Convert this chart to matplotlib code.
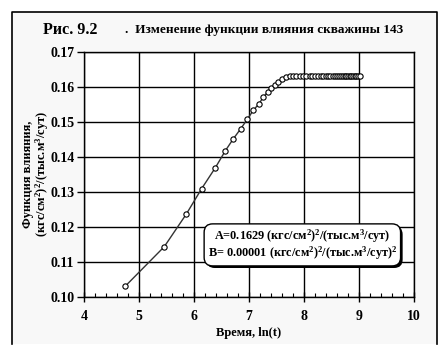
import matplotlib
matplotlib.use("Agg")
import matplotlib.pyplot as plt
import matplotlib.patheffects as pe
from matplotlib.patches import Rectangle
from matplotlib.lines import Line2D
from matplotlib.ticker import MultipleLocator, FormatStrFormatter

plt.rcParams["font.family"] = ["Liberation Serif", "DejaVu Serif"]
plt.rcParams["font.weight"] = "bold"
plt.rcParams["mathtext.default"] = "regular"

# data
ln_t = [4.75, 5.46, 5.86, 6.14, 6.39, 6.57, 6.71, 6.85, 6.97, 7.08, 7.18,
        7.26, 7.34, 7.40, 7.47, 7.53, 7.60, 7.67, 7.74,
        7.80, 7.86, 7.92, 7.98, 8.04, 8.10, 8.15, 8.20, 8.25, 8.30, 8.35,
        8.40, 8.44, 8.48, 8.52, 8.56, 8.60, 8.64, 8.68, 8.71, 8.74, 8.77,
        8.80, 8.83, 8.86, 8.89, 8.92, 8.95, 8.98, 9.01]
influence = [0.1030, 0.1143, 0.1236, 0.1309, 0.1369, 0.1417, 0.1450, 0.1480,
             0.1507, 0.1533, 0.1551, 0.1570, 0.1585, 0.1596, 0.1606, 0.1613,
             0.1621, 0.1627, 0.1630,
             0.1630, 0.1630, 0.1630, 0.1630, 0.1630, 0.1630, 0.1630, 0.1630,
             0.1630, 0.1630, 0.1630, 0.1630, 0.1630, 0.1630, 0.1630, 0.1630,
             0.1630, 0.1630, 0.1630, 0.1630, 0.1630, 0.1630, 0.1630, 0.1630,
             0.1630, 0.1630, 0.1630, 0.1630, 0.1630, 0.1630]

title_fig = "Рис. 9.2"
title_text = ".  Изменение функции влияния скважины 143"
xlabel = "Время, ln(t)"
ylabel = "Функция влияния,\n(кгс/см$^2$)$^2$/(тыс.м$^3$/сут)"
box_text = ("A=0.1629 (кгс/см$^2$)$^2$/(тыс.м$^3$/сут)\n"
            "B= 0.00001 (кгс/см$^2$)$^2$/(тыс.м$^3$/сут)$^2$")

fig = plt.figure(figsize=(4.48, 3.52), dpi=100)
fig.patch.set_facecolor("white")

# gray panel with frame on three sides
x0, y0, x1, y1 = 12 / 448, 1 - 344 / 352, 437 / 448, 1 - 12 / 352
fig.patches.append(Rectangle((x0, y0), x1 - x0, y1 - y0, transform=fig.transFigure,
                             facecolor="#f8f8f8", edgecolor="none", zorder=-10))
fig.lines.append(Line2D([x0, x0, x1, x1], [y0, y1, y1, y0], transform=fig.transFigure,
                        color="black", lw=1.2, zorder=-9))

ax = fig.add_axes([84 / 448, 1 - 296.7 / 352, 330 / 448, 245 / 352])
ax.set_facecolor("white")
ax.set_axisbelow(True)
ax.plot(ln_t, influence, color="#333333", lw=1.0, marker="o", ms=3.8,
        mfc="white", mec="black", mew=0.8, zorder=3)

ax.set_xlim(4, 10)
ax.set_ylim(0.10, 0.17)
ax.xaxis.set_major_locator(MultipleLocator(1))
ax.xaxis.set_minor_locator(MultipleLocator(0.2))
ax.yaxis.set_major_locator(MultipleLocator(0.01))
ax.yaxis.set_major_formatter(FormatStrFormatter("%.2f"))
ax.grid(True, which="major", color="black", lw=1.0)
ax.tick_params(axis="x", which="major", direction="inout", length=7, width=1,
               labelsize=10, pad=6)
ax.tick_params(axis="x", which="minor", direction="in", length=3, width=0.8)
ax.tick_params(axis="y", which="major", direction="out", length=5, width=1,
               labelsize=10, pad=2)
for s in ax.spines.values():
    s.set_linewidth(1.0)
for lab in ax.get_xticklabels() + ax.get_yticklabels():
    lab.set_fontweight("bold")

ax.set_xlabel(xlabel, fontsize=9, fontweight="bold", labelpad=3)
ax.set_ylabel(ylabel, fontsize=9, fontweight="bold", linespacing=0.95)
ax.yaxis.set_label_coords(-0.1, 0.5)

fig.text(43 / 448, 1 - 30 / 352, title_fig, fontsize=11.5, fontweight="bold",
         va="center", ha="left")
fig.text(125 / 448, 1 - 30 / 352, title_text, fontsize=9.5, fontweight="bold",
         va="center", ha="left")

txt = ax.text(7.97, 0.1148, box_text, fontsize=8.8, fontweight="bold", ha="center",
              va="center", linespacing=1.0, zorder=5,
              bbox=dict(boxstyle="round,pad=0.28,rounding_size=0.7", fc="white",
                        ec="black", lw=1.0))
txt.get_bbox_patch().set_path_effects(
    [pe.SimplePatchShadow(offset=(1.5, -1.5), shadow_rgbFace="black", alpha=1.0),
     pe.Normal()])

fig.savefig("out.png", dpi=100)
